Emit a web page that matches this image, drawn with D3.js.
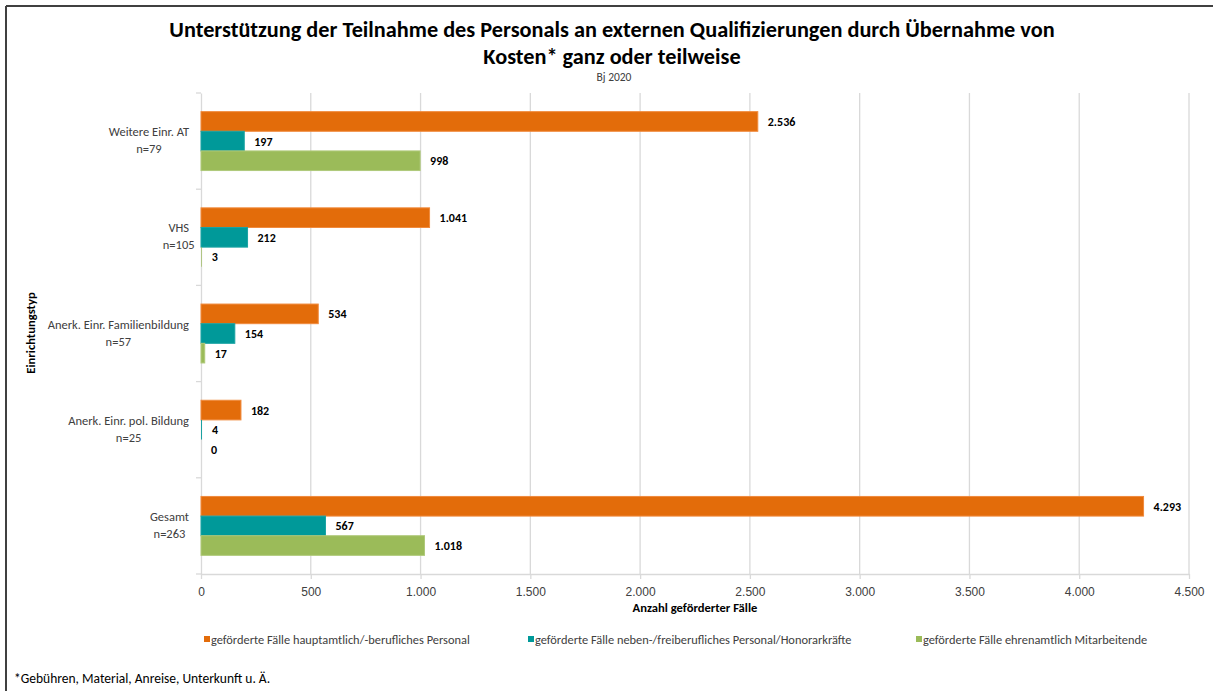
<!DOCTYPE html>
<html>
<head>
<meta charset="utf-8">
<script src="https://cdn.jsdelivr.net/npm/d3@7"></script>
<style>
  body { margin: 0; background: #fff; }
  svg { display: block; font-family: Carlito, "Liberation Sans Narrow", "Open Sans", sans-serif; }
</style>
</head>
<body>
<svg id="chart"></svg>
<script>
const width = 1213, height = 691;

const categories = ["Weitere Einr. AT", "VHS", "Anerk. Einr. Familienbildung", "Anerk. Einr. pol. Bildung", "Gesamt"];
const nLabels = ["n=79", "n=105", "n=57", "n=25", "n=263"];
const seriesNames = [
  "geförderte Fälle hauptamtlich/-berufliches Personal",
  "geförderte Fälle neben-/freiberufliches Personal/Honorarkräfte",
  "geförderte Fälle ehrenamtlich Mitarbeitende"
];
const hauptamtlich = [2536, 1041, 534, 182, 4293];
const nebenberuflich = [197, 212, 154, 4, 567];
const ehrenamtlich = [998, 3, 17, 0, 1018];
const xTicks = [0, 500, 1000, 1500, 2000, 2500, 3000, 3500, 4000, 4500];
const colors = ["#E36C0A", "#009999", "#9BBB59"];
const strokes = ["#F08A3C", "#1AA3A3", "#AFC97A"];

const series = [hauptamtlich, nebenberuflich, ehrenamtlich];
const fmt = v => d3.format(",")(v).replace(/,/g, ".");

const margin = { top: 93, right: 24, bottom: 117, left: 201 };

const svg = d3.select("#chart").attr("width", width).attr("height", height);

// frame (top + left edge only)
svg.append("line").attr("x1", 6).attr("x2", width).attr("y1", 6).attr("y2", 6)
  .attr("stroke", "#404040").attr("stroke-width", 2);
svg.append("line").attr("x1", 6).attr("x2", 6).attr("y1", 6).attr("y2", height)
  .attr("stroke", "#404040").attr("stroke-width", 2);

// titles
svg.append("text").attr("x", 612).attr("y", 37).attr("text-anchor", "middle")
  .attr("font-size", 22.3).attr("font-weight", "bold").attr("fill", "#000")
  .text("Unterstützung der Teilnahme des Personals an externen Qualifizierungen durch Übernahme von");
svg.append("text").attr("x", 612).attr("y", 64).attr("text-anchor", "middle")
  .attr("font-size", 22.3).attr("font-weight", "bold").attr("fill", "#000")
  .text("Kosten* ganz oder teilweise");
svg.append("text").attr("x", 614).attr("y", 81).attr("text-anchor", "middle")
  .attr("font-size", 11.5).attr("fill", "#404040").text("Bj 2020");

const x = d3.scaleLinear().domain([0, 4500]).range([margin.left, width - margin.right]);
const y = d3.scaleBand().domain(categories).range([margin.top, height - margin.bottom]);
const inner = d3.scaleBand().domain([0, 1, 2]).range([0, y.bandwidth()]).paddingOuter(0.95);

// gridlines
svg.append("g").selectAll("line").data(xTicks.slice(1)).enter().append("line")
  .attr("x1", d => x(d)).attr("x2", d => x(d))
  .attr("y1", margin.top).attr("y2", height - margin.bottom)
  .attr("stroke", "#D9D9D9").attr("stroke-width", 1.3);

// y axis line + ticks
const yAxis = svg.append("g").attr("transform", `translate(${margin.left},0)`)
  .call(d3.axisLeft(y).tickValues([]).tickSizeOuter(0));
yAxis.select(".domain").attr("stroke", "#D9D9D9").attr("stroke-width", 1.3);
svg.append("g").selectAll("line").data(d3.range(6)).enter().append("line")
  .attr("x1", margin.left - 5).attr("x2", margin.left)
  .attr("y1", i => margin.top + i * y.step()).attr("y2", i => margin.top + i * y.step())
  .attr("stroke", "#D9D9D9").attr("stroke-width", 1.3);

// x axis
const xAxis = svg.append("g").attr("transform", `translate(0,${height - margin.bottom})`)
  .call(d3.axisBottom(x).tickValues(xTicks).tickFormat(fmt).tickSize(5).tickSizeOuter(0));
xAxis.select(".domain").attr("stroke", "#D9D9D9").attr("stroke-width", 1.3);
xAxis.selectAll(".tick line").attr("stroke", "#D9D9D9").attr("stroke-width", 1.3);
xAxis.selectAll(".tick text").attr("font-size", 12).attr("fill", "#404040")
  .attr("font-family", "inherit").attr("dy", "1.15em");

// category labels
const catG = svg.append("g").selectAll("text").data(categories).enter().append("text")
  .attr("x", 189).attr("text-anchor", "end").attr("font-size", 12.5).attr("fill", "#404040");
catG.append("tspan").attr("x", 189).attr("y", d => y(d) + y.bandwidth() / 2 - 5).text(d => d);
catG.append("tspan").attr("text-anchor", "end")
  .attr("y", d => y(d) + y.bandwidth() / 2 + 12).text((d, i) => nLabels[i]);
catG.selectAll("tspan:nth-child(2)").attr("x", function() {
  const first = this.previousSibling.getComputedTextLength();
  const own = this.getComputedTextLength();
  return 189 - first / 2 + own / 2;
});

// bars
series.forEach((vals, s) => {
  const g = svg.append("g");
  g.selectAll("rect").data(vals).enter().append("rect")
    .attr("x", x(0))
    .attr("y", (d, i) => y(categories[i]) + inner(s))
    .attr("width", d => x(d) - x(0))
    .attr("height", inner.bandwidth())
    .attr("fill", colors[s]).attr("stroke", strokes[s]).attr("stroke-width", d => d > 10 ? 1 : 0);
  g.selectAll("text").data(vals).enter().append("text")
    .attr("x", d => x(d) + 10)
    .attr("y", (d, i) => y(categories[i]) + inner(s) + inner.bandwidth() / 2 + 4.5)
    .attr("font-size", 12).attr("font-weight", "bold").attr("fill", "#000")
    .text(fmt);
});

// axis titles
svg.append("text").attr("x", 695).attr("y", 612).attr("text-anchor", "middle")
  .attr("font-size", 12.6).attr("font-weight", "bold").attr("fill", "#000")
  .text("Anzahl geförderter Fälle");
svg.append("text").attr("transform", `translate(35,333) rotate(-90)`).attr("text-anchor", "middle")
  .attr("font-size", 12.6).attr("font-weight", "bold").attr("fill", "#000")
  .text("Einrichtungstyp");

// legend
const legendX = [204, 528, 916];
const leg = svg.append("g").selectAll("g").data(seriesNames).enter().append("g")
  .attr("transform", (d, i) => `translate(${legendX[i]},640)`);
leg.append("rect").attr("x", 0).attr("y", -4).attr("width", 6).attr("height", 6)
  .attr("fill", (d, i) => colors[i]);
leg.append("text").attr("x", 7).attr("y", 3.5).attr("font-size", 12.4).attr("fill", "#404040")
  .text(d => d);

// footnote
svg.append("text").attr("x", 14).attr("y", 683).attr("font-size", 13.5).attr("fill", "#000")
  .text("*Gebühren, Material, Anreise, Unterkunft u. Ä.");
</script>
</body>
</html>
